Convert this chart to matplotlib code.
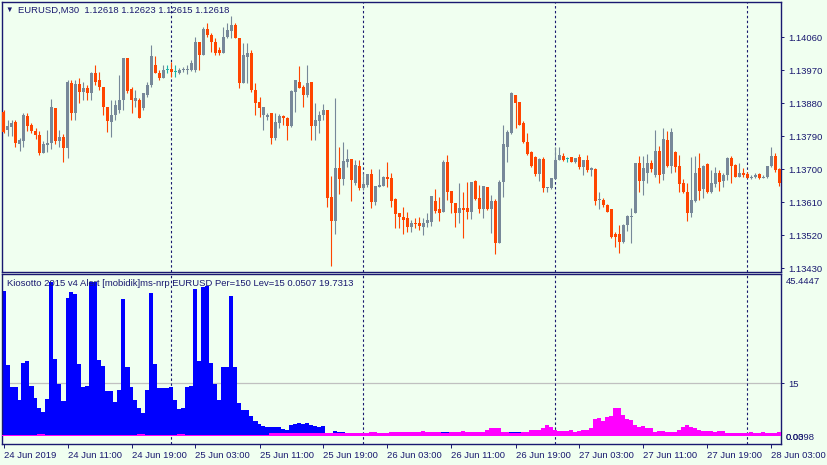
import numpy as np
import pandas as pd
import matplotlib
matplotlib.use("Agg")
import matplotlib.pyplot as plt

# EURUSD M30 candles, first bar 24 Jun 2019 03:00
start = "2019-06-24 03:00"
opens = [
    1.13856, 1.13807, 1.13815, 1.13829, 1.13769, 1.13777, 1.13845, 1.13821, 1.13804, 1.13793,
    1.13744, 1.13766, 1.13772, 1.13867, 1.13777, 1.13788, 1.13758, 1.13935, 1.13853, 1.13933,
    1.13911, 1.13922, 1.13908, 1.13963, 1.13944, 1.13925, 1.13870, 1.13829, 1.13848, 1.13862,
    1.13889, 1.14004, 1.13919, 1.13886, 1.13889, 1.13867, 1.13903, 1.13930, 1.13985, 1.13963,
    1.13949, 1.13971, 1.13974, 1.13965, 1.13963, 1.13970, 1.13970, 1.13971, 1.13971, 1.14047,
    1.14012, 1.14083, 1.14066, 1.14047, 1.14026, 1.14017, 1.14061, 1.14077, 1.14094, 1.14058,
    1.13935, 1.14006, 1.14017, 1.13916, 1.13884, 1.13848, 1.13843, 1.13853, 1.13785, 1.13826,
    1.13845, 1.13840, 1.13818, 1.13911, 1.13938, 1.13925, 1.13903, 1.13938, 1.13818, 1.13832,
    1.13848, 1.13862, 1.13624, 1.13559, 1.13703, 1.13673, 1.13720, 1.13728, 1.13662, 1.13709,
    1.13649, 1.13657, 1.13687, 1.13611, 1.13651, 1.13654, 1.13679, 1.13676, 1.13619, 1.13580,
    1.13570, 1.13567, 1.13542, 1.13553, 1.13553, 1.13542, 1.13553, 1.13556, 1.13613, 1.13591,
    1.13583, 1.13720, 1.13641, 1.13608, 1.13580, 1.13594, 1.13594, 1.13583, 1.13668, 1.13621,
    1.13591, 1.13651, 1.13591, 1.13613, 1.13499, 1.13665, 1.13761, 1.13799, 1.13903, 1.13884,
    1.13826, 1.13774, 1.13747, 1.13733, 1.13687, 1.13728, 1.13649, 1.13649, 1.13673, 1.13725,
    1.13736, 1.13728, 1.13733, 1.13720, 1.13733, 1.13706, 1.13725, 1.13698, 1.13701, 1.13615,
    1.13616, 1.13602, 1.13591, 1.13523, 1.13523, 1.13501, 1.13548, 1.13570, 1.13580, 1.13717,
    1.13668, 1.13690, 1.13717, 1.13684, 1.13750, 1.13687, 1.13780, 1.13709, 1.13747, 1.13709,
    1.13662, 1.13638, 1.13580, 1.13613, 1.13703, 1.13646, 1.13714, 1.13638, 1.13660, 1.13690,
    1.13668, 1.13684, 1.13731, 1.13712, 1.13679, 1.13690, 1.13687, 1.13676, 1.13679, 1.13687,
    1.13676, 1.13679, 1.13709, 1.13736, 1.13701,
]
highs = [
    1.13862, 1.13834, 1.13834, 1.13834, 1.13785, 1.13853, 1.13853, 1.13826, 1.13813, 1.13804,
    1.13777, 1.13807, 1.13892, 1.13867, 1.13807, 1.13796, 1.13944, 1.13944, 1.13944, 1.13949,
    1.13938, 1.13930, 1.13965, 1.13985, 1.13965, 1.13925, 1.13870, 1.13889, 1.13889, 1.13957,
    1.14004, 1.14004, 1.13925, 1.13916, 1.13894, 1.13908, 1.13938, 1.14039, 1.14009, 1.13971,
    1.13985, 1.13985, 1.13993, 1.13985, 1.13976, 1.13979, 1.13985, 1.13998, 1.14061, 1.14047,
    1.14088, 1.14099, 1.14072, 1.14058, 1.14034, 1.14088, 1.14099, 1.14118, 1.14099, 1.14058,
    1.14045, 1.14045, 1.14026, 1.13935, 1.13897, 1.13870, 1.13853, 1.13853, 1.13853, 1.13851,
    1.13848, 1.13843, 1.13916, 1.13944, 1.13982, 1.13930, 1.13985, 1.13938, 1.13881, 1.13859,
    1.13878, 1.13862, 1.13681, 1.13894, 1.13761, 1.13774, 1.13755, 1.13728, 1.13725, 1.13725,
    1.13690, 1.13687, 1.13701, 1.13654, 1.13701, 1.13681, 1.13720, 1.13690, 1.13621, 1.13580,
    1.13597, 1.13583, 1.13561, 1.13567, 1.13570, 1.13567, 1.13580, 1.13627, 1.13646, 1.13624,
    1.13725, 1.13739, 1.13641, 1.13608, 1.13662, 1.13638, 1.13665, 1.13665, 1.13671, 1.13657,
    1.13654, 1.13651, 1.13630, 1.13619, 1.13671, 1.13821, 1.13807, 1.13911, 1.13903, 1.13884,
    1.13832, 1.13799, 1.13750, 1.13736, 1.13731, 1.13733, 1.13651, 1.13676, 1.13761, 1.13761,
    1.13744, 1.13733, 1.13733, 1.13731, 1.13742, 1.13725, 1.13739, 1.13706, 1.13703, 1.13638,
    1.13621, 1.13605, 1.13591, 1.13529, 1.13548, 1.13550, 1.13575, 1.13594, 1.13717, 1.13736,
    1.13736, 1.13742, 1.13725, 1.13807, 1.13763, 1.13813, 1.13804, 1.13813, 1.13750, 1.13739,
    1.13673, 1.13662, 1.13733, 1.13736, 1.13744, 1.13712, 1.13717, 1.13698, 1.13706, 1.13698,
    1.13690, 1.13733, 1.13736, 1.13714, 1.13717, 1.13703, 1.13692, 1.13684, 1.13690, 1.13690,
    1.13684, 1.13709, 1.13761, 1.13744, 1.13703,
]
lows = [
    1.13799, 1.13791, 1.13791, 1.13761, 1.13750, 1.13761, 1.13804, 1.13799, 1.13782, 1.13739,
    1.13744, 1.13747, 1.13755, 1.13769, 1.13761, 1.13720, 1.13731, 1.13834, 1.13834, 1.13881,
    1.13889, 1.13889, 1.13889, 1.13930, 1.13916, 1.13848, 1.13802, 1.13788, 1.13834, 1.13853,
    1.13862, 1.13908, 1.13853, 1.13870, 1.13840, 1.13862, 1.13897, 1.13925, 1.13963, 1.13944,
    1.13949, 1.13963, 1.13952, 1.13952, 1.13960, 1.13965, 1.13960, 1.13968, 1.13965, 1.13971,
    1.14012, 1.14061, 1.14020, 1.14012, 1.14012, 1.14017, 1.14058, 1.14058, 1.14058, 1.13922,
    1.13935, 1.13935, 1.13911, 1.13848, 1.13843, 1.13807, 1.13834, 1.13769, 1.13780, 1.13813,
    1.13821, 1.13780, 1.13815, 1.13856, 1.13922, 1.13870, 1.13897, 1.13780, 1.13780, 1.13799,
    1.13834, 1.13597, 1.13436, 1.13523, 1.13632, 1.13657, 1.13706, 1.13613, 1.13657, 1.13643,
    1.13643, 1.13651, 1.13594, 1.13602, 1.13651, 1.13654, 1.13651, 1.13597, 1.13540, 1.13540,
    1.13523, 1.13529, 1.13529, 1.13540, 1.13534, 1.13520, 1.13542, 1.13545, 1.13580, 1.13559,
    1.13583, 1.13616, 1.13580, 1.13542, 1.13553, 1.13512, 1.13564, 1.13564, 1.13616, 1.13580,
    1.13567, 1.13589, 1.13526, 1.13469, 1.13499, 1.13624, 1.13720, 1.13796, 1.13813, 1.13821,
    1.13772, 1.13739, 1.13706, 1.13681, 1.13668, 1.13638, 1.13638, 1.13646, 1.13673, 1.13725,
    1.13722, 1.13720, 1.13720, 1.13717, 1.13701, 1.13684, 1.13692, 1.13681, 1.13602, 1.13591,
    1.13597, 1.13583, 1.13512, 1.13488, 1.13471, 1.13499, 1.13531, 1.13499, 1.13580, 1.13638,
    1.13630, 1.13662, 1.13692, 1.13679, 1.13662, 1.13671, 1.13706, 1.13690, 1.13692, 1.13638,
    1.13635, 1.13559, 1.13570, 1.13611, 1.13616, 1.13621, 1.13635, 1.13635, 1.13651, 1.13641,
    1.13651, 1.13671, 1.13662, 1.13679, 1.13679, 1.13679, 1.13676, 1.13673, 1.13676, 1.13673,
    1.13676, 1.13676, 1.13706, 1.13692, 1.13654,
]
closes = [
    1.13802, 1.13818, 1.13826, 1.13772, 1.13780, 1.13848, 1.13818, 1.13804, 1.13793, 1.13744,
    1.13769, 1.13772, 1.13870, 1.13777, 1.13788, 1.13758, 1.13938, 1.13853, 1.13933, 1.13911,
    1.13922, 1.13908, 1.13963, 1.13938, 1.13925, 1.13870, 1.13832, 1.13848, 1.13875, 1.13889,
    1.14004, 1.13914, 1.13889, 1.13894, 1.13840, 1.13908, 1.13930, 1.14009, 1.13963, 1.13949,
    1.13971, 1.13971, 1.13965, 1.13965, 1.13971, 1.13971, 1.13971, 1.13990, 1.14047, 1.14012,
    1.14083, 1.14066, 1.14047, 1.14017, 1.14017, 1.14061, 1.14080, 1.14094, 1.14058, 1.13935,
    1.14012, 1.14017, 1.13916, 1.13881, 1.13867, 1.13870, 1.13848, 1.13785, 1.13829, 1.13845,
    1.13840, 1.13818, 1.13914, 1.13944, 1.13922, 1.13903, 1.13935, 1.13818, 1.13834, 1.13848,
    1.13862, 1.13621, 1.13559, 1.13703, 1.13673, 1.13722, 1.13728, 1.13671, 1.13712, 1.13649,
    1.13660, 1.13687, 1.13611, 1.13654, 1.13657, 1.13679, 1.13673, 1.13613, 1.13578, 1.13570,
    1.13561, 1.13542, 1.13553, 1.13550, 1.13545, 1.13553, 1.13561, 1.13627, 1.13586, 1.13580,
    1.13720, 1.13638, 1.13608, 1.13580, 1.13594, 1.13589, 1.13583, 1.13665, 1.13619, 1.13591,
    1.13654, 1.13591, 1.13613, 1.13499, 1.13665, 1.13769, 1.13802, 1.13908, 1.13881, 1.13821,
    1.13774, 1.13742, 1.13709, 1.13687, 1.13728, 1.13649, 1.13651, 1.13676, 1.13725, 1.13739,
    1.13725, 1.13728, 1.13720, 1.13731, 1.13706, 1.13725, 1.13698, 1.13703, 1.13613, 1.13616,
    1.13602, 1.13583, 1.13515, 1.13515, 1.13501, 1.13548, 1.13572, 1.13572, 1.13717, 1.13668,
    1.13703, 1.13717, 1.13701, 1.13750, 1.13684, 1.13782, 1.13709, 1.13802, 1.13706, 1.13660,
    1.13638, 1.13580, 1.13616, 1.13690, 1.13641, 1.13709, 1.13638, 1.13662, 1.13690, 1.13665,
    1.13684, 1.13731, 1.13709, 1.13679, 1.13690, 1.13684, 1.13676, 1.13679, 1.13684, 1.13676,
    1.13679, 1.13709, 1.13736, 1.13698, 1.13662,
]

# Kiosotto histogram: bulls (blue) and bears (magenta)
bulls = [
    41.0, 20.3, 14.0, 14.0, 10.2, 20.7, 21.4, 14.2, 10.9, 8.0,
    6.9, 10.5, 43.7, 22.0, 14.8, 9.9, 39.1, 40.8, 40.3, 20.5,
    14.0, 14.2, 43.7, 43.7, 21.5, 19.8, 12.8, 12.8, 9.7, 13.1,
    38.9, 19.6, 14.0, 10.2, 8.1, 6.6, 13.1, 40.5, 20.5, 13.6,
    13.6, 13.6, 14.0, 10.2, 7.8, 8.1, 14.0, 14.2, 41.7, 21.2,
    42.2, 42.5, 20.7, 14.8, 10.2, 19.5, 19.5, 39.8, 19.5, 9.5,
    7.4, 7.4, 5.7, 4.2, 3.4, 2.9, 2.6, 2.5, 2.5, 2.6,
    2.1, 1.8, 3.1, 3.4, 3.8, 3.5, 3.8, 3.1, 2.8, 2.6,
    2.9, 0.9, 0.9, 1.6, 1.3, 1.3, 1.0, 0.5, 0.5, 0.5,
    0.5, 0.5, 0.5, 0.5, 0.5, 0.5, 1.0, 0.5, 0.5, 0.5,
    0.5, 0.5, 0.5, 0.5, 0.5, 0.5, 0.5, 0.5, 0.5, 0.5,
    1.3, 1.3, 0.5, 0.5, 0.5, 0.5, 0.5, 0.5, 0.5, 0.5,
    0.5, 0.5, 0.5, 0.5, 0.5, 0.5, 0.5, 1.1, 1.1, 1.1,
    0.5, 0.5, 0.5, 0.5, 0.5, 0.5, 0.5, 0.5, 0.5, 0.5,
    0.5, 0.5, 0.5, 0.5, 0.5, 0.5, 0.5, 0.5, 0.5, 0.5,
    0.5, 0.5, 0.5, 0.5, 0.5, 0.5, 0.5, 0.5, 0.5, 0.5,
    0.5, 0.5, 0.5, 0.5, 0.5, 0.5, 0.5, 0.5, 0.5, 0.5,
    0.5, 0.5, 0.5, 0.5, 0.5, 0.5, 0.5, 0.5, 0.5, 0.5,
    0.5, 0.5, 0.5, 0.5, 0.5, 0.5, 0.5, 0.5, 0.5, 0.5,
    0.5, 0.5, 1.0, 1.0, 0.5,
]
bears = [
    0.4, 0.4, 0.4, 0.4, 0.4, 0.4, 0.4, 0.4, 0.4, 0.7,
    0.7, 0.4, 0.4, 0.4, 0.4, 0.4, 0.4, 0.4, 0.4, 0.4,
    0.4, 0.4, 0.4, 0.4, 0.4, 0.4, 0.4, 0.4, 0.4, 0.4,
    0.4, 0.4, 0.4, 0.4, 0.7, 0.7, 0.4, 0.4, 0.4, 0.4,
    0.4, 0.4, 0.4, 0.4, 0.7, 0.7, 0.4, 0.4, 0.4, 0.4,
    0.4, 0.4, 0.4, 0.4, 0.4, 0.4, 0.4, 0.4, 0.4, 0.4,
    0.4, 0.4, 0.4, 0.4, 0.4, 0.4, 0.4, 0.9, 0.9, 0.9,
    0.8, 0.8, 0.8, 0.8, 0.8, 0.8, 0.8, 0.8, 0.8, 0.8,
    0.8, 1.0, 1.0, 0.8, 0.8, 0.8, 0.8, 1.0, 1.0, 1.0,
    1.0, 1.0, 1.3, 1.3, 1.0, 1.0, 0.8, 1.1, 1.1, 1.1,
    1.1, 1.1, 1.1, 1.1, 1.1, 1.6, 1.1, 1.1, 1.1, 1.1,
    0.9, 0.9, 1.1, 1.1, 1.1, 1.6, 1.1, 1.1, 1.1, 1.1,
    1.1, 1.9, 2.3, 2.3, 2.3, 1.1, 1.1, 0.8, 0.8, 0.8,
    1.1, 1.3, 1.9, 1.9, 1.9, 2.3, 3.1, 2.6, 1.9, 1.6,
    1.6, 1.6, 1.9, 1.3, 1.6, 1.9, 1.9, 2.3, 4.8, 5.2,
    4.2, 5.5, 5.7, 8.0, 8.0, 5.9, 4.8, 4.5, 3.1, 2.6,
    2.9, 2.3, 2.3, 1.3, 1.6, 1.6, 1.3, 1.3, 1.3, 1.9,
    2.6, 3.1, 2.6, 2.3, 1.9, 1.6, 1.6, 1.6, 1.3, 1.6,
    1.6, 1.0, 1.0, 1.0, 1.0, 1.0, 1.0, 1.3, 1.0, 1.0,
    1.3, 1.0, 0.8, 0.8, 1.3,
]

price_ticks = [1.14060, 1.13970, 1.13880, 1.13790, 1.13700, 1.13610, 1.13520, 1.13430]
level = 15
header = "EURUSD,M30  1.12618 1.12623 1.12615 1.12618"
ind_label = "Kiosotto 2015 v4 Alert [mobidik]ms-nrp EURUSD Per=150 Lev=15 0.0507 19.7313"
ind_top_label = "45.4447"
ind_bottom_labels = ["0.0398", "0.00"]

bg = "#f0fff0"
navy = "#191970"
up_col = "#778899"
dn_col = "#ff4500"
doji_col = "#20b2aa"

plt.rcParams["font.family"] = ["Liberation Sans", "DejaVu Sans"]
plt.rcParams["font.size"] = 6.8

W, H = 827, 465
fig = plt.figure(figsize=(W / 100, H / 100), dpi=100, facecolor=bg)


def box(x0, y0, x1, y1):
    return [x0 / W, 1 - y1 / H, (x1 - x0) / W, (y1 - y0) / H]


ax = fig.add_axes(box(2, 2, 781, 272))
ax2 = fig.add_axes(box(2, 274, 781, 444))

o, hi, lo, c = map(np.array, (opens, highs, lows, closes))
x = np.arange(len(c))
times = pd.date_range(start, periods=len(c), freq="30min")
seps = x[(times.hour == 0) & (times.minute == 0)]

for a in (ax, ax2):
    a.set_facecolor(bg)
    a.set_xlim(-0.375, len(c) - 0.625)
    for s in a.spines.values():
        s.set_color(navy)
        s.set_linewidth(1.0)
    for sx in seps:
        a.axvline(sx, color=navy, lw=0.8, ls=(0, (2.2, 2.2)), zorder=0.5)

# candles
col = np.where(c > o, up_col, np.where(c < o, dn_col, doji_col))
ax.vlines(x, lo, hi, colors=col, lw=0.8, zorder=2)
body = np.maximum(np.abs(c - o), 0.0000275)
ax.bar(x, body, 0.75, bottom=np.minimum(o, c), color=col, lw=0, zorder=3)

ax.set_ylim(1.134194, 1.141565)
ax.yaxis.tick_right()
ax.set_yticks(price_ticks)
ax.set_yticklabels(["%.5f" % p for p in price_ticks])
ax.tick_params(axis="y", direction="out", length=2.5, width=0.7, pad=2.5,
               colors=navy, labelsize=6.8)
ax.tick_params(axis="x", bottom=False, labelbottom=False)

# indicator, drawn as stairs so neighbouring bars join without seams
edges = np.arange(len(c) + 1) - 0.5
ax2.axhline(level, color="#c0c0c0", lw=0.9, zorder=0.4)
ax2.stairs(bulls, edges, baseline=0, fill=True, color="#0000ff", lw=0, zorder=2)
ax2.stairs(bears, edges, baseline=0, fill=True, color="#ff00ff", lw=0, zorder=3)
ax2.set_ylim(-2.18, 45.94)
ax2.yaxis.tick_right()
ax2.set_yticks([level])
ax2.set_yticklabels([str(level)])
ax2.tick_params(axis="y", direction="out", length=2.5, width=0.7, pad=2.5,
                colors=navy, labelsize=6.8)

tick_idx = x[::16]
tick_lbl = [times[0].strftime("%d %b %Y")] + [times[i].strftime("%d %b %H:%M") for i in tick_idx[1:]]
ax2.set_xticks(tick_idx)
ax2.set_xticklabels(tick_lbl, ha="left")
ax2.tick_params(axis="x", direction="out", length=3, width=0.7, pad=2,
                colors=navy, labelsize=6.8)

fig.text(9 / W, 1 - 10 / H, "\u25bc", color=navy, fontsize=5.5, ha="center", va="center")
fig.text(18 / W, 1 - 10 / H, header, color=navy, va="center")
fig.text(7 / W, 1 - 284 / H, ind_label, color=navy, va="center")
fig.text(786 / W, 1 - 281.5 / H, ind_top_label, color=navy, va="center")
# MT4 prints the two bottom scale labels on top of each other
for t in ind_bottom_labels:
    fig.text(786 / W, 1 - 437 / H, t, color=navy, va="center")

fig.savefig("out.png", dpi=100, facecolor=bg)
